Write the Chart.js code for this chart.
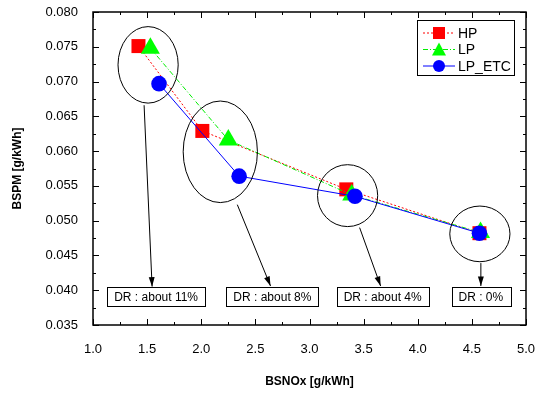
<!DOCTYPE html>
<html>
<head>
<meta charset="utf-8">
<script src="https://cdn.jsdelivr.net/npm/chart.js@4.4.1/dist/chart.umd.min.js"></script>
<style>
  html, body { margin: 0; padding: 0; background: #fff; }
  #wrap { width: 537px; height: 393px; }
</style>
</head>
<body>
<div id="wrap"><canvas id="myChart" width="537" height="393"></canvas></div>
<script>
// data
const hp_x = [1.42, 2.01, 3.34, 4.57];
const hp_y = [0.0751, 0.0629, 0.0545, 0.0482];
const lp_x = [1.53, 2.25, 3.39, 4.58];
const lp_y = [0.0748, 0.0616, 0.0537, 0.0483];
const etc_x = [1.61, 2.35, 3.42, 4.57];
const etc_y = [0.0697, 0.0564, 0.0535, 0.0482];
const x_ticks = [1.0, 1.5, 2.0, 2.5, 3.0, 3.5, 4.0, 4.5, 5.0];
const y_ticks = [0.035, 0.040, 0.045, 0.050, 0.055, 0.060, 0.065, 0.070, 0.075, 0.080];
const dr_labels = ['DR : about 11%', 'DR : about 8%', 'DR : about 4%', 'DR : 0%'];

// ellipse groups (data units): center x, center y, radius x, radius y
const groups = [
  { cx: 1.509, cy: 0.0724, rx: 0.278, ry: 0.0055 },
  { cx: 2.176, cy: 0.0599, rx: 0.343, ry: 0.0073 },
  { cx: 3.352, cy: 0.0536, rx: 0.278, ry: 0.00445 },
  { cx: 4.574, cy: 0.0481, rx: 0.278, ry: 0.0040 }
];
// arrows from ellipse to label box
const arrows = [
  { x1: 1.472, y1: 0.0666, x2: 1.546, y2: 0.0405 },
  { x1: 2.333, y1: 0.0523, x2: 2.640, y2: 0.0406 },
  { x1: 3.463, y1: 0.0490, x2: 3.657, y2: 0.0406 },
  { x1: 4.583, y1: 0.0439, x2: 4.583, y2: 0.0406 }
];
const box_x = [1.583, 2.657, 3.676, 4.583];
const box_top = 0.0405;

const font = '"Liberation Sans", Arial, sans-serif';

function pts(xs, ys) { return xs.map((x, i) => ({ x: x, y: ys[i] })); }

// ticks inside on all sides + annotations + legend
const extras = {
  id: 'extras',
  afterDraw(chart) {
    const c = chart.ctx;
    const a = chart.chartArea;
    const xs = chart.scales.x, ys = chart.scales.y;
    c.save();
    c.strokeStyle = '#000';
    c.lineWidth = 1.5;
    c.strokeRect(a.left, a.top, a.right - a.left, a.bottom - a.top);
    c.lineWidth = 1;
    c.beginPath();
    x_ticks.forEach((t, i) => {
      const px = Math.round(xs.getPixelForValue(t)) + 0.5;
      c.moveTo(px, a.bottom); c.lineTo(px, a.bottom - 6);
      c.moveTo(px, a.top); c.lineTo(px, a.top + 6);
      if (i < x_ticks.length - 1) {
        const m = Math.round(xs.getPixelForValue(t + 0.25)) + 0.5;
        c.moveTo(m, a.bottom); c.lineTo(m, a.bottom - 3);
        c.moveTo(m, a.top); c.lineTo(m, a.top + 3);
      }
    });
    y_ticks.forEach((t, i) => {
      const py = Math.round(ys.getPixelForValue(t)) + 0.5;
      c.moveTo(a.left, py); c.lineTo(a.left + 6, py);
      c.moveTo(a.right, py); c.lineTo(a.right - 6, py);
      if (i < y_ticks.length - 1) {
        const m = Math.round(ys.getPixelForValue(t + 0.0025)) + 0.5;
        c.moveTo(a.left, m); c.lineTo(a.left + 3, m);
        c.moveTo(a.right, m); c.lineTo(a.right - 3, m);
      }
    });
    c.stroke();

    // ellipses
    c.lineWidth = 1;
    groups.forEach(g => {
      const cx = xs.getPixelForValue(g.cx), cy = ys.getPixelForValue(g.cy);
      const rx = xs.getPixelForValue(g.cx + g.rx) - cx;
      const ry = cy - ys.getPixelForValue(g.cy + g.ry);
      c.beginPath();
      c.ellipse(cx, cy, rx, ry, 0, 0, Math.PI * 2);
      c.stroke();
    });

    // arrows
    arrows.forEach(ar => {
      const x1 = xs.getPixelForValue(ar.x1), y1 = ys.getPixelForValue(ar.y1);
      const x2 = xs.getPixelForValue(ar.x2), y2 = ys.getPixelForValue(ar.y2);
      c.beginPath(); c.moveTo(x1, y1); c.lineTo(x2, y2); c.stroke();
      const ang = Math.atan2(y2 - y1, x2 - x1);
      c.beginPath();
      c.moveTo(x2, y2);
      c.lineTo(x2 - 10 * Math.cos(ang - 0.3), y2 - 10 * Math.sin(ang - 0.3));
      c.lineTo(x2 - 10 * Math.cos(ang + 0.3), y2 - 10 * Math.sin(ang + 0.3));
      c.closePath();
      c.fillStyle = '#000';
      c.fill();
    });

    // label boxes
    c.font = '12px ' + font;
    c.textAlign = 'center';
    c.textBaseline = 'middle';
    dr_labels.forEach((t, i) => {
      const cx = xs.getPixelForValue(box_x[i]);
      const top = ys.getPixelForValue(box_top);
      const w = c.measureText(t).width + 14;
      const h = 19;
      c.fillStyle = '#fff';
      c.fillRect(cx - w / 2, top, w, h);
      c.strokeRect(Math.round(cx - w / 2) + 0.5, Math.round(top) + 0.5, Math.round(w), h);
      c.fillStyle = '#000';
      c.fillText(t, cx, top + h / 2 + 1);
    });

    // legend
    const lx = a.right - 109, ly = a.top + 8, lw = 97, lh = 55;
    c.fillStyle = '#fff';
    c.fillRect(lx, ly, lw, lh);
    c.lineWidth = 1;
    c.strokeRect(lx + 0.5, ly + 0.5, lw, lh);
    c.font = '14px ' + font;
    c.textAlign = 'left';
    chart.data.datasets.forEach((ds, i) => {
      const yy = ly + 13 + i * 16.5;
      c.strokeStyle = ds.borderColor;
      c.setLineDash(ds.borderDash || []);
      c.beginPath(); c.moveTo(lx + 6, yy); c.lineTo(lx + 38, yy); c.stroke();
      c.setLineDash([]);
      c.fillStyle = ds.pointBackgroundColor;
      const r = 6;
      const mx = lx + 22;
      c.beginPath();
      if (ds.pointStyle === 'rect') c.rect(mx - r, yy - r, 2 * r, 2 * r);
      else if (ds.pointStyle === 'triangle') { c.moveTo(mx, yy - r - 1); c.lineTo(mx + r + 1, yy + r); c.lineTo(mx - r - 1, yy + r); c.closePath(); }
      else c.arc(mx, yy, r, 0, Math.PI * 2);
      c.fill();
      c.fillStyle = '#000';
      c.fillText(ds.label, lx + 41, yy + 1);
    });
    c.restore();
  }
};

var ctx = document.getElementById('myChart').getContext('2d');
var chart = new Chart(ctx, {
  type: 'scatter',
  data: {
    datasets: [
      {
        label: 'HP',
        data: pts(hp_x, hp_y),
        showLine: true,
        borderColor: '#ff0000',
        borderWidth: 1,
        borderDash: [2, 2],
        pointStyle: 'rect',
        pointRadius: 9.9,
        pointBackgroundColor: '#ff0000',
        pointBorderWidth: 0,
        order: 2
      },
      {
        label: 'LP',
        data: pts(lp_x, lp_y),
        showLine: true,
        borderColor: '#00ee00',
        borderWidth: 1,
        borderDash: [5, 2, 1, 2],
        pointStyle: 'triangle',
        pointRadius: 11,
        pointBackgroundColor: '#00ff00',
        pointBorderWidth: 0,
        order: 1
      },
      {
        label: 'LP_ETC',
        data: pts(etc_x, etc_y),
        showLine: true,
        borderColor: '#0000ff',
        borderWidth: 1,
        pointStyle: 'circle',
        pointRadius: 7.8,
        pointBackgroundColor: '#0000ff',
        pointBorderWidth: 0,
        order: 0
      }
    ]
  },
  options: {
    responsive: false,
    animation: false,
    layout: { padding: { top: 12, right: 11, left: 6, bottom: 0 } },
    plugins: { legend: { display: false }, tooltip: { enabled: false } },
    scales: {
      x: {
        type: 'linear',
        min: 1.0, max: 5.0,
        afterBuildTicks: (s) => { s.ticks = x_ticks.map(v => ({ value: v })); },
        afterFit: (s) => { s.height = 68; s.paddingLeft = 0; s.paddingRight = 0; },
        grid: { display: false },
        border: { display: false },
        ticks: {
          color: '#000',
          font: { family: font, size: 13 },
          padding: 9,
          callback: (v) => Number(v).toFixed(1)
        },
        title: {
          display: true,
          text: 'BSNOx [g/kWh]',
          color: '#000',
          font: { family: font, size: 12, weight: 'bold' },
          padding: { top: 10 }
        }
      },
      y: {
        type: 'linear',
        min: 0.035, max: 0.080,
        afterBuildTicks: (s) => { s.ticks = y_ticks.map(v => ({ value: v })); },
        afterFit: (s) => { s.width = 87; s.paddingTop = 0; s.paddingBottom = 0; },
        grid: { display: false },
        border: { display: false },
        ticks: {
          color: '#000',
          font: { family: font, size: 13 },
          padding: 7,
          callback: (v) => Number(v).toFixed(3)
        },
        title: {
          display: true,
          text: 'BSPM [g/kWh]',
          color: '#000',
          font: { family: font, size: 12, weight: 'bold' },
          padding: { top: 4, bottom: 4 }
        }
      }
    }
  },
  plugins: [extras]
});
</script>
</body>
</html>
